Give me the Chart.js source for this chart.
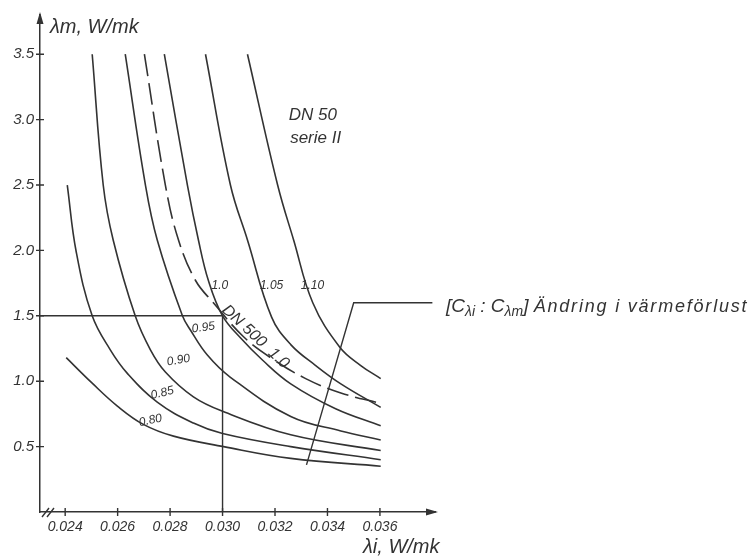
<!DOCTYPE html>
<html>
<head>
<meta charset="utf-8">
<script src="https://cdn.jsdelivr.net/npm/chart.js@4.4.1/dist/chart.umd.min.js"></script>
<style>
html, body { margin: 0; background: #fff; }
#wrap { width: 753px; height: 556px; }
</style>
</head>
<body>
<div id="wrap"><canvas id="myChart" width="753" height="556"></canvas></div>
<script>
// tick values
var xTicks = [0.024, 0.026, 0.028, 0.030, 0.032, 0.034, 0.036];
var yTicks = [0.5, 1.0, 1.5, 2.0, 2.5, 3.0, 3.5];

// curves: lambda_i (x) and lambda_m (y)
var li080 = [0.02404, 0.02503, 0.02599, 0.02698, 0.02813, 0.03004, 0.03260, 0.03603];
var lm080 = [1.18, 0.985, 0.81, 0.67, 0.58, 0.50, 0.41, 0.35];

var li085 = [0.02408, 0.02442, 0.02503, 0.02572, 0.02637, 0.02751, 0.02889, 0.03000, 0.03260, 0.03603];
var lm085 = [2.50, 1.99, 1.50, 1.24, 1.06, 0.84, 0.68, 0.60, 0.50, 0.40];

var li090 = [0.02503, 0.02545, 0.02583, 0.02667, 0.02725, 0.02782, 0.02889, 0.03000, 0.03260, 0.03603];
var lm090 = [3.50, 2.50, 2.08, 1.50, 1.24, 1.07, 0.88, 0.77, 0.59, 0.47];

var li095 = [0.02629, 0.02706, 0.02751, 0.02847, 0.02878, 0.02942, 0.03030, 0.03260, 0.03451, 0.03603];
var lm095 = [3.50, 2.50, 2.08, 1.50, 1.39, 1.20, 1.03, 0.73, 0.62, 0.55];

var li100 = [0.02778, 0.02866, 0.02908, 0.02946, 0.03000, 0.03069, 0.03153, 0.03260, 0.03431, 0.03603];
var lm100 = [3.50, 2.50, 2.08, 1.77, 1.50, 1.33, 1.16, 0.98, 0.79, 0.66];

var liDN500 = [0.02702, 0.02782, 0.02832, 0.02897, 0.02965, 0.03080, 0.03183, 0.03317, 0.03451, 0.03603];
var lmDN500 = [3.50, 2.50, 2.08, 1.77, 1.60, 1.34, 1.18, 1.02, 0.91, 0.83];

var li105 = [0.02935, 0.03030, 0.03095, 0.03187, 0.03260, 0.03355, 0.03451, 0.03603];
var lm105 = [3.50, 2.50, 2.08, 1.49, 1.28, 1.12, 0.98, 0.80];

var li110 = [0.03095, 0.03210, 0.03271, 0.03344, 0.03447, 0.03527, 0.03603];
var lm110 = [3.50, 2.50, 2.08, 1.60, 1.26, 1.12, 1.02];

// reading lines at 0.030 / 1.5 and the leader to the note
var refX = [0.02304, 0.030, 0.030];
var refY = [1.5, 1.5, 0];
var leaderX = [0.0380, 0.0350, 0.0332];
var leaderY = [1.60, 1.60, 0.36];

var ink = '#333333';

function pts(xs, ys) {
    var out = [];
    for (var i = 0; i < xs.length; i++) {
        out.push({x: xs[i], y: ys[i]});
    }
    return out;
}

function curve(label, xs, ys, dash) {
    return {
        label: label,
        data: pts(xs, ys),
        borderColor: ink,
        borderWidth: 1.6,
        borderDash: dash || [],
        pointRadius: 0,
        tension: 0.4,
        fill: false
    };
}

function straight(label, xs, ys) {
    return {
        label: label,
        data: pts(xs, ys),
        borderColor: ink,
        borderWidth: 1.4,
        pointRadius: 0,
        tension: 0,
        fill: false
    };
}

var handFont = "'Liberation Sans', 'DejaVu Sans', sans-serif";

function say(ctx, s, x, y, size, angle, align) {
    ctx.save();
    ctx.translate(x, y);
    if (angle) ctx.rotate(angle * Math.PI / 180);
    ctx.font = 'italic ' + size + 'px ' + handFont;
    ctx.fillStyle = ink;
    ctx.textAlign = align || 'center';
    ctx.textBaseline = 'middle';
    ctx.fillText(s, 0, 0);
    ctx.restore();
}

var drawing = {
    id: 'drawing',
    afterDatasetsDraw: function(chart) {
        var ctx = chart.ctx;
        var xs = chart.scales.x, ys = chart.scales.y;
        var a = chart.chartArea;
        var X = function(v) { return xs.getPixelForValue(v); };
        var Y = function(v) { return ys.getPixelForValue(v); };

        ctx.save();
        ctx.strokeStyle = ink;
        ctx.fillStyle = ink;
        ctx.lineWidth = 1.4;

        // tick marks crossing the axes
        ctx.beginPath();
        xTicks.forEach(function(v) {
            ctx.moveTo(X(v), a.bottom - 4);
            ctx.lineTo(X(v), a.bottom + 4);
        });
        yTicks.forEach(function(v) {
            ctx.moveTo(a.left - 4, Y(v));
            ctx.lineTo(a.left + 4, Y(v));
        });
        // axis break
        ctx.moveTo(a.left + 2, a.bottom + 5);
        ctx.lineTo(a.left + 9, a.bottom - 4);
        ctx.moveTo(a.left + 7, a.bottom + 5);
        ctx.lineTo(a.left + 14, a.bottom - 4);
        ctx.stroke();

        // arrow heads
        ctx.beginPath();
        ctx.moveTo(a.left, a.top - 3);
        ctx.lineTo(a.left - 3.5, a.top + 9);
        ctx.lineTo(a.left + 3.5, a.top + 9);
        ctx.closePath();
        ctx.moveTo(a.right + 3, a.bottom);
        ctx.lineTo(a.right - 9, a.bottom - 3.5);
        ctx.lineTo(a.right - 9, a.bottom + 3.5);
        ctx.closePath();
        ctx.fill();

        // axis titles
        say(ctx, 'λm, W/mk', a.left + 10, a.top + 12, 20, 0, 'left');
        say(ctx, 'λi, W/mk', a.right - 72, a.bottom + 35, 20, 0, 'left');

        // curve labels
        say(ctx, '0.80', X(0.02725), Y(0.70), 12, -12);
        say(ctx, '0.85', X(0.02770), Y(0.91), 12, -14);
        say(ctx, '0.90', X(0.02832), Y(1.16), 12, -10);
        say(ctx, '0.95', X(0.02927), Y(1.41), 12, -8);
        say(ctx, '1.0', X(0.02990), Y(1.73), 12, 0);
        say(ctx, '1.05', X(0.03187), Y(1.73), 12, 0);
        say(ctx, '1.10', X(0.03343), Y(1.73), 12, 0);
        say(ctx, 'DN 500  1.0', X(0.03126), Y(1.34), 16, 43);
        say(ctx, 'DN 50', X(0.03344), Y(3.03), 17, 0);
        say(ctx, 'serie II', X(0.03355), Y(2.86), 17, 0);

        // note at the end of the leader
        var nx = X(0.03852), ny = Y(1.57);
        ctx.textAlign = 'left';
        ctx.textBaseline = 'middle';
        var parts = [['[C', 19, 0, 0], ['λi', 14, 5, 0], [' : C', 19, 0, 0], ['λm', 14, 5, 0], ['] ', 19, 0, 0], ['Ändring i värmeförlust', 18, 0, 1.8]];
        parts.forEach(function(p) {
            ctx.font = 'italic ' + p[1] + 'px ' + handFont;
            ctx.letterSpacing = p[3] + 'px';
            ctx.fillText(p[0], nx, ny + p[2]);
            nx += ctx.measureText(p[0]).width;
        });
        ctx.letterSpacing = '0px';
        ctx.restore();
    }
};

var ctx = document.getElementById('myChart').getContext('2d');

var lambdaChart = new Chart(ctx, {
    type: 'line',
    data: {
        datasets: [
            curve('0.80', li080, lm080),
            curve('0.85', li085, lm085),
            curve('0.90', li090, lm090),
            curve('0.95', li095, lm095),
            curve('1.0', li100, lm100),
            curve('DN 500 1.0', liDN500, lmDN500, [22, 7]),
            curve('1.05', li105, lm105),
            curve('1.10', li110, lm110),
            straight('ref', refX, refY),
            straight('leader', leaderX, leaderY)
        ]
    },
    options: {
        responsive: false,
        animation: false,
        layout: { padding: { left: 0, top: 15, right: 318, bottom: 0 } },
        plugins: {
            legend: { display: false },
            tooltip: { enabled: false }
        },
        scales: {
            x: {
                type: 'linear',
                min: 0.02304,
                max: 0.0381,
                grid: { display: false, drawTicks: false },
                border: { display: true, color: ink, width: 1.5 },
                afterFit: function(s) { s.height = 44; },
                afterBuildTicks: function(s) {
                    s.ticks = xTicks.map(function(v) { return {value: v}; });
                },
                ticks: {
                    color: ink,
                    padding: 7,
                    maxRotation: 0,
                    autoSkip: false,
                    font: { family: handFont, style: 'italic', size: 14 },
                    callback: function(v) { return v.toFixed(3); }
                }
            },
            y: {
                type: 'linear',
                min: 0,
                max: 3.8,
                grid: { display: false, drawTicks: false },
                border: { display: true, color: ink, width: 1.5 },
                afterFit: function(s) { s.width = 40; },
                afterBuildTicks: function(s) {
                    s.ticks = yTicks.map(function(v) { return {value: v}; });
                },
                ticks: {
                    color: ink,
                    padding: 6,
                    autoSkip: false,
                    font: { family: handFont, style: 'italic', size: 15 },
                    callback: function(v) { return v.toFixed(1); }
                }
            }
        }
    },
    plugins: [drawing]
});
</script>
</body>
</html>
